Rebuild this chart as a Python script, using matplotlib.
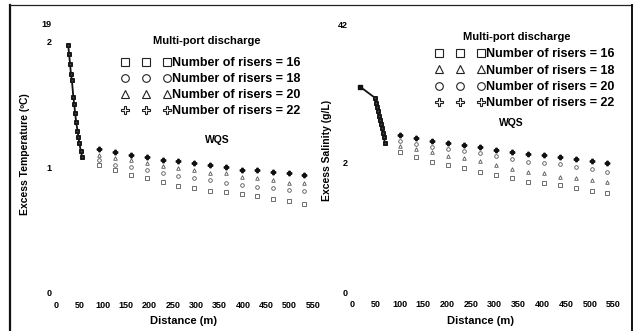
import matplotlib
matplotlib.use("Agg")
import matplotlib.pyplot as plt
from matplotlib.lines import Line2D

plt.rcParams['font.family'] = ['Liberation Sans', 'DejaVu Sans']
plt.rcParams['font.weight'] = 'bold'
plt.rcParams['axes.labelweight'] = 'bold'

W, H = 637, 331

risers = [16, 18, 20, 22]

# near field (all riser counts overlap here)
near_dist_t = [26, 28, 30, 32, 34, 37, 39, 41, 43, 46, 48, 50, 53, 56]
near_temp = [1.97, 1.90, 1.82, 1.74, 1.69, 1.56, 1.50, 1.43, 1.36, 1.29,
             1.24, 1.19, 1.13, 1.08]
near_dist_s = [17, 48, 50, 53, 55, 57, 59, 61, 63, 65, 67, 69]
near_sal = [3.18, 3.01, 2.93, 2.87, 2.80, 2.73, 2.67, 2.60, 2.54, 2.47,
            2.40, 2.31]

# far field
far_dist_t = [92, 126, 160, 195, 229, 262, 296, 330, 363, 398, 431, 465, 498, 531]
temp_16 = [1.02, 0.98, 0.94, 0.91, 0.88, 0.85, 0.83, 0.81, 0.80, 0.79, 0.77, 0.75, 0.73, 0.71]
temp_18 = [1.06, 1.02, 1.00, 0.98, 0.95, 0.93, 0.91, 0.90, 0.87, 0.86, 0.84, 0.83, 0.82, 0.81]
temp_20 = [1.10, 1.07, 1.06, 1.03, 1.01, 0.99, 0.98, 0.95, 0.95, 0.92, 0.91, 0.90, 0.87, 0.87]
temp_22 = [1.14, 1.12, 1.10, 1.08, 1.06, 1.05, 1.03, 1.02, 1.00, 0.98, 0.98, 0.96, 0.95, 0.94]

far_dist_s = [101, 135, 168, 202, 235, 269, 303, 336, 370, 404, 437, 471, 505, 536]
sal_16 = [2.17, 2.09, 2.02, 1.97, 1.92, 1.86, 1.81, 1.77, 1.71, 1.69, 1.66, 1.61, 1.57, 1.54]
sal_18 = [2.26, 2.22, 2.17, 2.11, 2.08, 2.03, 1.97, 1.91, 1.86, 1.85, 1.78, 1.77, 1.74, 1.71]
sal_20 = [2.34, 2.30, 2.25, 2.22, 2.19, 2.16, 2.11, 2.06, 2.02, 2.00, 1.98, 1.94, 1.91, 1.86]
sal_22 = [2.43, 2.39, 2.34, 2.31, 2.28, 2.25, 2.20, 2.17, 2.14, 2.12, 2.09, 2.06, 2.03, 2.00]

x_ticks = [0, 50, 100, 150, 200, 250, 300, 350, 400, 450, 500, 550]
temp_ticks = [0, 1, 2, 2.14]
temp_tick_labels = ['0', '1', '2', '19']
sal_ticks = [0, 2, 4.15]
sal_tick_labels = ['0', '2', '42']

temp_markers = ['s', 'o', '^', 'P']
sal_markers = ['s', '^', 'o', 'P']

fig = plt.figure(figsize=(W / 100, H / 100), dpi=100)


def px_rect(x0, y_top, w, h):
    # pixel box (from top-left) -> figure fraction
    return [x0 / W, 1 - (y_top + h) / H, w / W, h / H]


def plain_axes(ax, ylim, yticks, ylabels):
    ax.set_xlim(0, 570)
    ax.set_ylim(*ylim)
    for s in ax.spines.values():
        s.set_visible(False)
    ax.set_xticks(x_ticks)
    ax.set_xticklabels([str(t) for t in x_ticks])
    ax.set_yticks(yticks)
    ax.set_yticklabels(ylabels)
    ax.tick_params(length=0, labelsize=6.5)
    ax.tick_params(axis='x', pad=6)
    ax.tick_params(axis='y', pad=3)


def draw_panel(ax, near_x, near_y, far_x, far_sets, markers, first_filled):
    ax.plot(near_x, near_y, '-', color='#111', lw=1.3, zorder=2)
    for vals, m in zip(far_sets, markers):
        ax.plot(near_x, near_y, m, ls='none', ms=2.4, mfc='#555',
                mec='#111', mew=0.6, zorder=3)
        if m == 'P':
            ax.plot(far_x, vals, m, ls='none', ms=3.2, color='#111', zorder=3)
        else:
            ax.plot(far_x, vals, m, ls='none', ms=2.6, mfc='none',
                    mec='#555', mew=0.6, zorder=3)
    if first_filled:
        ax.plot(near_x[:1], near_y[:1], 's', ms=3.2, color='#111', zorder=4)


def add_legend(ax, markers, anchor, title_xy, spacing):
    handles = [Line2D([], [], ls='none', marker=m, ms=5.5, mfc='white',
                      mec='#222', mew=0.8) for m in markers]
    labels = ['Number of risers = %d' % n for n in risers]
    ax.legend(handles, labels, loc='upper left',
              bbox_to_anchor=(anchor[0] / W, 1 - anchor[1] / H),
              bbox_transform=fig.transFigure, frameon=False, numpoints=3,
              handlelength=4.0, handletextpad=0.1, labelspacing=spacing,
              borderpad=0, borderaxespad=0, fontsize=9)
    fig.text(title_xy[0] / W, 1 - title_xy[1] / H, 'Multi-port discharge',
             ha='center', va='center', fontsize=8)


# temperature
ax1 = fig.add_axes(px_rect(56, 16, 266.4, 277))
plain_axes(ax1, (0, 2.2), temp_ticks, temp_tick_labels)
draw_panel(ax1, near_dist_t, near_temp, far_dist_t,
           [temp_16, temp_18, temp_20, temp_22], temp_markers, False)
ax1.set_xlabel('Distance (m)', fontsize=8)
ax1.xaxis.set_label_coords(0.48, -0.083)
ax1.set_ylabel('Excess Temperature (ºC)', fontsize=7.5)
ax1.yaxis.set_label_coords(-0.098, 0.5)
add_legend(ax1, temp_markers, (121, 57), (207, 41), 0.32)
fig.text(217 / W, 1 - 140 / H, 'WQS', ha='center', va='center', fontsize=7.5)

# salinity
ax2 = fig.add_axes(px_rect(352, 8, 271, 284))
plain_axes(ax2, (0, 4.4), sal_ticks, sal_tick_labels)
draw_panel(ax2, near_dist_s, near_sal, far_dist_s,
           [sal_16, sal_18, sal_20, sal_22], sal_markers, True)
ax2.set_xlabel('Distance (m)', fontsize=8)
ax2.xaxis.set_label_coords(0.476, -0.085)
ax2.set_ylabel('Excess Salinity (g/L)', fontsize=7.5)
ax2.yaxis.set_label_coords(-0.074, 0.5)
add_legend(ax2, sal_markers, (435, 48), (517, 37), 0.36)
fig.text(511 / W, 1 - 123 / H, 'WQS', ha='center', va='center', fontsize=7.5)

# outer frame
fig.add_artist(Line2D([10 / W, 10 / W], [0, 1 - 5 / H], color='#111', lw=1.6,
                      transform=fig.transFigure))
fig.add_artist(Line2D([10 / W, 632 / W], [1 - 5 / H, 1 - 5 / H], color='#222', lw=0.9,
                      transform=fig.transFigure))
fig.add_artist(Line2D([632 / W, 632 / W], [0, 1 - 5 / H], color='#111', lw=1.4,
                      transform=fig.transFigure))

fig.savefig('out.png', dpi=100)
